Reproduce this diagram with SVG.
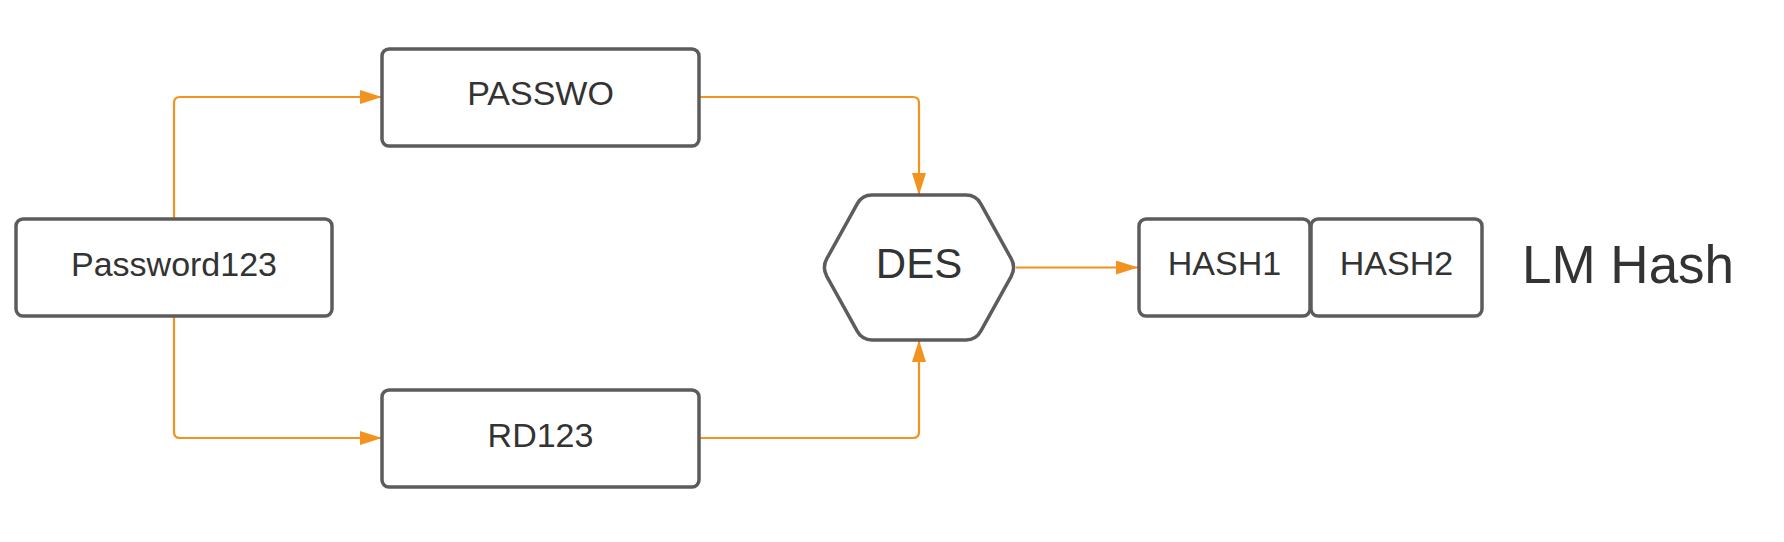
<svg xmlns="http://www.w3.org/2000/svg" width="1784" height="542" viewBox="0 0 1784 542">
<style>
.box{fill:#ffffff;stroke:#5c5c5c;stroke-width:3.5}
.lbl{font-family:"Liberation Sans",Arial,sans-serif;font-size:34px;fill:#333333;text-anchor:middle}
.conn{fill:none;stroke:#F2921F;stroke-width:2.2}
</style>
<defs>
<marker id="arr" markerUnits="userSpaceOnUse" markerWidth="22" markerHeight="14" refX="22" refY="7" orient="auto">
<path d="M0,0 L22,7 L0,14 Z" fill="#F2921F"/>
</marker>
</defs>
<rect width="1784" height="542" fill="#ffffff"/>
<g id="connectors">
<path class="conn" marker-end="url(#arr)" d="M174,218 V103 Q174,97 180,97 H382"/>
<path class="conn" marker-end="url(#arr)" d="M174,316 V432 Q174,438 180,438 H382"/>
<path class="conn" marker-end="url(#arr)" d="M699,97 H913 Q919,97 919,103 V195"/>
<path class="conn" marker-end="url(#arr)" d="M699,438 H913 Q919,438 919,432 V340"/>
<path class="conn" marker-end="url(#arr)" d="M1016,267.5 H1138"/>
</g>
<g id="password123">
<rect class="box" x="16" y="219" width="316" height="97" rx="7"/>
<text class="lbl" x="174" y="276">Password123</text>
</g>
<g id="passwo">
<rect class="box" x="382" y="49" width="317" height="97" rx="7"/>
<text class="lbl" x="540.5" y="105">PASSWO</text>
</g>
<g id="rd123">
<rect class="box" x="382" y="390" width="317" height="97" rx="7"/>
<text class="lbl" x="540.5" y="447">RD123</text>
</g>
<g id="des">
<path class="box" d="M826.8,258.7 L857.2,203.8 Q862,195 872,195 L966,195 Q976,195 980.8,203.8 L1011.2,258.7 Q1016,267.5 1011.2,276.3 L980.8,331.2 Q976,340 966,340 L872,340 Q862,340 857.2,331.2 L826.8,276.3 Q822,267.5 826.8,258.7 Z"/>
<text class="lbl" x="919" y="278" style="font-size:42px">DES</text>
</g>
<g id="hash1">
<rect class="box" x="1139" y="219" width="171" height="97" rx="7"/>
<text class="lbl" x="1224.5" y="275">HASH1</text>
</g>
<g id="hash2">
<rect class="box" x="1311" y="219" width="171" height="97" rx="7"/>
<text class="lbl" x="1396.5" y="275">HASH2</text>
</g>
<g id="lmhash">
<text x="1522" y="283" style="font-family:'Liberation Sans',Arial,sans-serif;font-size:53px;fill:#333333">LM Hash</text>
</g>
</svg>
